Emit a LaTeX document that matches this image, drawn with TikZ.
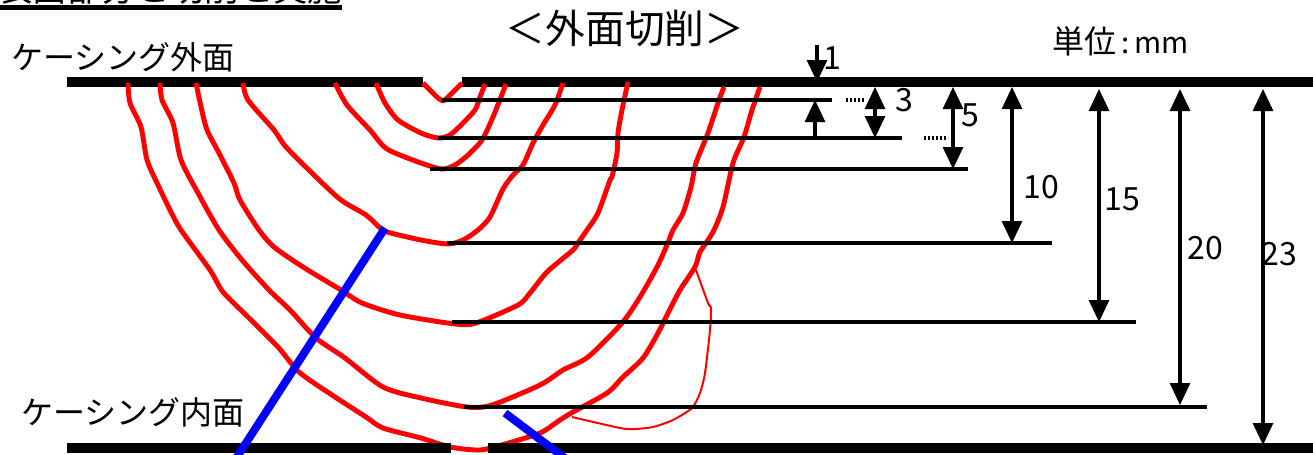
\documentclass[tikz,border=0pt]{standalone}
\usepackage{fontspec}
\setmainfont{Noto Sans CJK JP}
\usetikzlibrary{arrows.meta}
\tikzset{
  bar/.style={line width=7.8pt},
  level/.style={line width=2.4pt},
  cut/.style={red,line width=3.7pt,line join=round},
  thincut/.style={red,line width=1.5pt,line join=round},
  tool/.style={blue,line width=6pt},
  dim/.style={line width=2.3pt,-{Triangle[length=16.5pt,width=15pt]}},
  dimb/.style={line width=2.3pt,{Triangle[length=16.5pt,width=15pt]}-{Triangle[length=16.5pt,width=15pt]}},
  dots/.style={line width=2.3pt,dash pattern=on 1.6pt off 1.4pt},
  lab/.style={inner sep=0pt,font=\fontsize{24}{24}\selectfont},
  ttl/.style={inner sep=0pt,font=\fontsize{29.8}{30}\selectfont},
  head/.style={inner sep=0pt,font=\fontsize{25.8}{26}\selectfont}
}
\begin{document}
\begin{tikzpicture}[x=0.75pt,y=-0.75pt]
\useasboundingbox (0,0) rectangle (1313,454);
\clip (0,0) rectangle (1313,454);
% heading, cut off by the top edge
\node[head,anchor=base west] (heading) at (-2,1) {表面部分と切削と実施};
\fill (0,5) rectangle (342,9.5);
% titles
\node[ttl] (title) at (625,28) {＜外面切削＞};
\node[lab,anchor=west] (outer) at (11,57) {ケーシング外面};
\node[lab,anchor=west] (inner) at (21,412) {ケーシング内面};
\node[lab,anchor=west] (unit) at (1052,41) {単位\fontsize{22}{22}\selectfont\,:\,mm};
% top bar
\draw[bar] (67,82) -- (423,82);
\draw[bar] (462,82) -- (1313,82);
% cut profiles
\draw[cut] plot[smooth,tension=.45] coordinates {(423,83)(437,97)(443,101)(448,97)(462,83)};
\draw[cut] plot[smooth,tension=.45] coordinates {(376,83)(385,103)(398,120)(421,133)(438,138)(450,135)(463,123)(475,110)(480,97)(485,84)};
\draw[cut] plot[smooth,tension=.45] coordinates {(335,83)(347,105)(370,130)(387,149)(421,163)(442,169)(455,165)(468,155)(482,140)(493,117)(506,84)};
\draw[cut] plot[smooth,tension=.45] coordinates {(243,83)(248,100)(274,130)(286,147)(316,177)(341,200)(366,215)(379,227)(387,232)(421,240)(448,244)(463,240)(478,230)(490,217)(503,189)(513,175)(523,165)(533,143)(543,125)(555,105)(563,83)};
\draw[cut] plot[smooth,tension=.45] coordinates {(196,83)(206,127)(219,153)(234,183)(240,200)(259,230)(274,247)(303,267)(341,290)(362,303)(400,315)(455,324)(476,323)(518,305)(530,293)(547,272)(573,250)(578,243)(587,230)(598,213)(610,180)(612,177)(617,153)(618,133)(622,110)(628,82)};
\draw[cut] plot[smooth,tension=.45] coordinates {(160,83)(162,100)(173,123)(181,160)(198,193)(219,230)(242,260)(269,290)(290,310)(316,338)(345,358)(383,387)(421,398)(467,407)(492,405)(540,385)(563,370)(588,357)(622,323)(640,297)(657,267)(667,245)(673,230)(683,213)(691,187)(696,163)(708,133)(719,100)(724,87)};
\draw[cut] plot[smooth,tension=.45] coordinates {(128,83)(130,103)(141,127)(147,160)(158,185)(170,210)(181,230)(210,270)(223,292)(248,317)(278,347)(299,372)(332,395)(366,417)(383,428)(421,438)(450,447)(480,450)(505,444)(540,433)(560,420)(573,412)(607,393)(623,377)(643,358)(658,333)(668,313)(680,290)(695,267)(700,252)(713,232)(723,207)(733,163)(744,137)(752,110)(760,87)};
\draw[thincut] plot[smooth,tension=.4] coordinates {(696,270)(708,303)(711,308)(710,330)(705,373)(700,393)(692,408)(673,420)(653,427)(635,429)(620,428)(572,417)};
% level lines
\draw[level] (442,100) -- (832,100);
\draw[level] (438,138) -- (902,138);
\draw[level] (430,169) -- (968,169);
\draw[level] (447,243) -- (1052,243);
\draw[level] (452,322) -- (1136,322);
\draw[level] (464,407) -- (1207,407);
% bottom bar
\draw[bar] (67,448) -- (451,448);
\draw[bar] (488,448) -- (1313,448);
% tools
\draw[tool] (385,228) -- (235,460);
\draw[tool] (505,413) -- (570,462);
% dimensions
\draw[dim] (817,45) -- (817,82);
\draw[dim] (815,138) -- (815,100);
\draw[dimb] (875,87) -- (875,138);
\draw[dimb] (953,87) -- (953,169);
\draw[dimb] (1012,87) -- (1012,243);
\draw[dimb] (1099,89) -- (1099,322);
\draw[dimb] (1180,89) -- (1180,405);
\draw[dimb] (1263,89) -- (1263,445);
\draw[dots] (846,100) -- (865,100);
\draw[dots] (924,138) -- (948,138);
\node[lab] (d1) at (832,58) {1};
\node[lab] (d3) at (904,100) {3};
\node[lab] (d5) at (970,115) {5};
\node[lab] (d10) at (1041,187) {10};
\node[lab] (d15) at (1122,199) {15};
\node[lab] (d20) at (1205,248) {20};
\node[lab] (d23) at (1279,254) {23};
\end{tikzpicture}
\end{document}
